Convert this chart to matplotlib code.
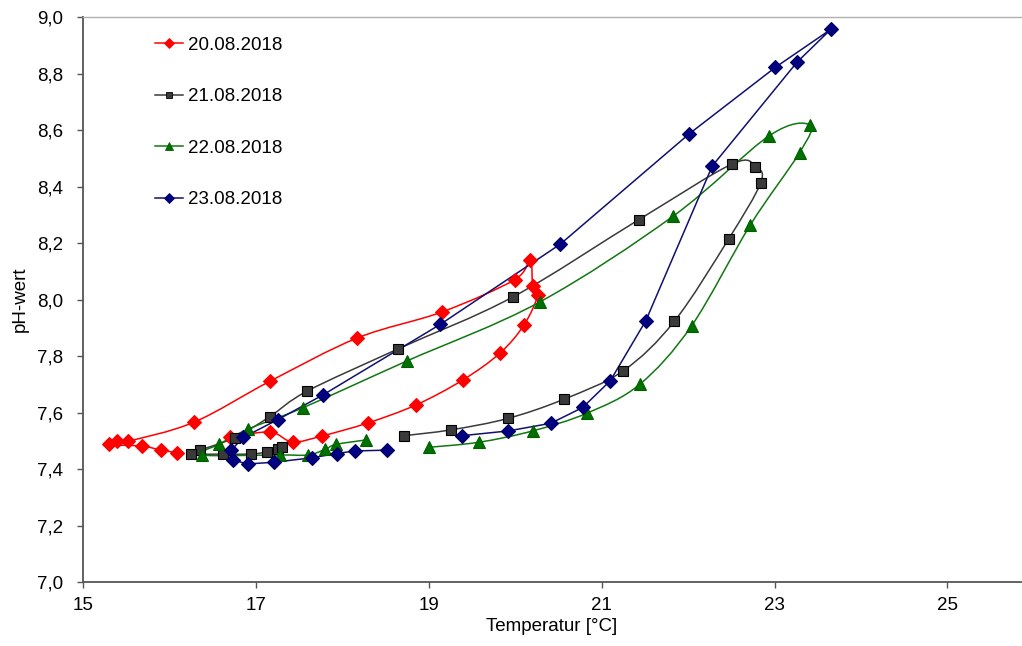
import matplotlib
matplotlib.use("Agg")
import matplotlib.pyplot as plt
import numpy as np
from matplotlib.path import Path
from matplotlib.patches import PathPatch
from matplotlib.lines import Line2D
from matplotlib.ticker import FuncFormatter

plt.rcParams['font.family'] = ['Liberation Sans', 'DejaVu Sans']

# Temperatur [°C] und pH-wert, je Tag (stündliche Werte)
t_20 = [16.70, 17.16, 17.42, 17.76, 18.29, 18.85, 19.39, 19.82, 20.10, 20.26, 20.20, 20.17,
        19.99, 19.15, 18.17, 17.16, 16.28, 15.52, 15.39, 15.29, 15.68, 15.90, 16.08]
ph_20 = [7.513, 7.531, 7.496, 7.517, 7.563, 7.627, 7.715, 7.81, 7.91, 8.016, 8.048, 8.14,
         8.07, 7.956, 7.864, 7.711, 7.566, 7.499, 7.499, 7.487, 7.481, 7.467, 7.458]

t_21 = [18.71, 19.26, 19.91, 20.56, 21.25, 21.84, 22.47, 22.84, 22.78, 22.51, 21.43, 19.97,
        18.64, 17.59, 17.16, 16.75, 16.35, 16.25, 16.61, 16.94, 17.13, 17.25, 17.30]
ph_21 = [7.518, 7.539, 7.579, 7.647, 7.748, 7.923, 8.215, 8.413, 8.47, 8.48, 8.283, 8.009,
         7.825, 7.676, 7.586, 7.511, 7.467, 7.453, 7.453, 7.453, 7.461, 7.47, 7.479]

t_22 = [19.00, 19.58, 20.20, 20.83, 21.44, 22.04, 22.72, 23.29, 23.41, 22.94, 21.83, 20.28,
        18.74, 17.54, 16.91, 16.57, 16.37, 17.27, 17.60, 17.80, 17.92, 18.27]
ph_22 = [7.477, 7.495, 7.535, 7.598, 7.70, 7.907, 8.264, 8.52, 8.618, 8.58, 8.296, 7.991,
         7.782, 7.617, 7.542, 7.488, 7.450, 7.450, 7.450, 7.470, 7.487, 7.503]

t_23 = [19.38, 19.92, 20.41, 20.78, 21.10, 21.51, 22.28, 23.26, 23.65, 23.01, 22.01, 20.52,
        19.13, 17.77, 17.25, 16.85, 16.71, 16.73, 16.90, 17.20, 17.65, 17.93, 18.14, 18.51]
ph_23 = [7.518, 7.535, 7.562, 7.618, 7.713, 7.925, 8.473, 8.84, 8.956, 8.822, 8.586, 8.196,
         7.912, 7.662, 7.575, 7.512, 7.467, 7.432, 7.418, 7.424, 7.44, 7.455, 7.464, 7.467]

labels = ['20.08.2018', '21.08.2018', '22.08.2018', '23.08.2018']


def smooth_path(x, y):
    # geglättete Linie wie in Excel (Catmull-Rom als Bezier)
    p = np.column_stack([x, y])
    n = len(p)
    verts = [p[0]]
    codes = [Path.MOVETO]
    for i in range(n - 1):
        p0 = p[i - 1] if i > 0 else p[i]
        p3 = p[i + 2] if i + 2 < n else p[i + 1]
        verts += [p[i] + (p[i + 1] - p0) / 6, p[i + 1] - (p3 - p[i]) / 6, p[i + 1]]
        codes += [Path.CURVE4] * 3
    return Path(verts, codes)


fig = plt.figure(figsize=(10.22, 6.46), dpi=100)
ax = fig.add_axes([0.0817, 0.099, 0.917, 0.8746])

series = [
    (t_20, ph_20, '#ff0000', '#ff0000', '#ff0000', 'D', 7.5, True),
    (t_21, ph_21, '#3a3a3a', '#3a3a3a', '#000000', 's', 6.5, True),
    (t_22, ph_22, '#117711', '#007000', '#006000', '^', 8.5, True),
    (t_23, ph_23, '#101070', '#000080', '#000060', 'D', 7.5, False),
]

handles = []
for (x, y, lc, fc, ec, m, ms, smooth), lab in zip(series, labels):
    if smooth:
        ax.add_patch(PathPatch(smooth_path(x, y), fill=False, edgecolor=lc, lw=1.1, zorder=2))
    else:
        ax.plot(x, y, color=lc, lw=1.1, zorder=2)
    ax.plot(x, y, ls='none', marker=m, ms=ms, mfc=fc, mec=ec, mew=0.8, zorder=3)
    handles.append(Line2D([], [], color=lc, lw=1.1, marker=m, ms=ms * 0.65,
                          mfc=fc, mec=ec, mew=0.6))

ax.set_xlim(15, 25.85)
ax.set_ylim(7.0, 9.0)
ax.set_xticks([15, 17, 19, 21, 23, 25])
ax.set_yticks(np.arange(7.0, 9.01, 0.2))
ax.yaxis.set_major_formatter(FuncFormatter(lambda v, p: f"{v:.1f}".replace('.', ',')))
ax.tick_params(axis='both', labelsize=13.5, direction='out', length=4.5, width=1.0, color='#555555')
ax.tick_params(axis='y', pad=10)
ax.tick_params(axis='x', pad=6)

for s in ['left', 'bottom']:
    ax.spines[s].set_color('#555555')
    ax.spines[s].set_linewidth(1.3)
ax.spines['top'].set_color('#b0b0b0')
ax.spines['top'].set_linewidth(1.0)
ax.spines['right'].set_visible(False)

ax.set_xlabel('Temperatur [°C]', fontsize=13.5, labelpad=3)
ax.set_ylabel('pH-wert', fontsize=13.5, labelpad=6)

fig.legend(handles, labels, loc='upper left', bbox_to_anchor=(0.1517, 0.943),
           frameon=False, fontsize=13.5, borderpad=0, borderaxespad=0,
           handlelength=1.5, handletextpad=0.27, labelspacing=1.83)

fig.savefig('out.png', dpi=100)
